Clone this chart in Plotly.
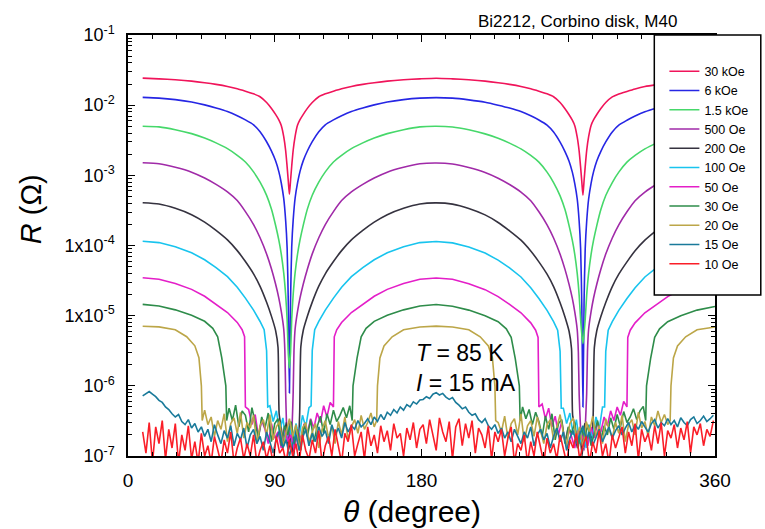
import plotly.graph_objects as go

FONT = "Arial, 'Liberation Sans', Helvetica, sans-serif"

# ---------------------------------------------------------------------------
# Angle grid shared by the three highest-field sweeps (degrees)
THETA_HI = [9, 19, 29, 39, 47, 54, 61, 67, 72, 77, 81, 85, 88, 90.5, 92.5, 94, 95.5, 96.7, 97.6, 98.3, 99,
            99.7, 100.4, 101.3, 102.5, 104, 105.5, 107.5, 110, 113, 117, 121, 126, 131, 137, 144, 151, 159, 169, 179, 189,
            199, 209, 219, 227, 234, 241, 247, 252, 257, 261, 265, 268, 270.5, 272.5, 274, 275.5, 276.7, 277.6, 278.3, 279,
            279.7, 280.4, 281.3, 282.5, 284, 285.5, 287.5, 290, 293, 297, 301, 306, 311, 317, 324, 331, 339, 349, 360]

# R (ohm) at 30 kOe
R_30K = [2.43e-2, 2.37e-2, 2.30e-2, 2.20e-2, 2.09e-2, 1.98e-2, 1.85e-2, 1.71e-2, 1.58e-2, 1.45e-2, 1.32e-2, 1.09e-2,
         8.97e-3, 7.38e-3, 6.17e-3, 5.13e-3, 3.55e-3, 2.24e-3, 1.32e-3, 8.32e-4, 5.37e-4,
         8.5e-4, 1.35e-3, 2.28e-3, 3.6e-3, 5.2e-3, 6.2e-3, 7.4e-3, 9.0e-3, 1.09e-2, 1.32e-2, 1.45e-2, 1.58e-2, 1.71e-2,
         1.85e-2, 1.98e-2, 2.09e-2, 2.20e-2, 2.30e-2, 2.37e-2, 2.42e-2,
         2.37e-2, 2.30e-2, 2.20e-2, 2.09e-2, 1.98e-2, 1.85e-2, 1.71e-2, 1.58e-2, 1.45e-2, 1.32e-2, 1.09e-2, 8.9e-3,
         7.3e-3, 6.1e-3, 5.1e-3, 3.5e-3, 2.2e-3, 1.3e-3, 8.2e-4, 5.2e-4,
         8.4e-4, 1.33e-3, 2.25e-3, 3.55e-3, 5.15e-3, 6.15e-3, 7.35e-3, 8.95e-3, 1.09e-2, 1.31e-2, 1.44e-2, 1.57e-2,
         1.70e-2, 1.84e-2, 1.96e-2, 2.07e-2, 2.18e-2, 2.28e-2, 2.35e-2]

# R (ohm) at 6 kOe
R_6K = [1.29e-2, 1.26e-2, 1.20e-2, 1.11e-2, 1.01e-2, 9.14e-3, 8.13e-3, 7.08e-3, 6.17e-3, 5.25e-3, 4.18e-3, 3.01e-3,
        2.21e-3, 1.61e-3, 1.13e-3, 7.78e-4, 4.68e-4, 2.25e-4, 9.12e-5, 1.58e-5, 7.9e-7,
        1.7e-5, 9.5e-5, 2.3e-4, 4.75e-4, 7.85e-4, 1.14e-3, 1.62e-3, 2.22e-3, 3.02e-3, 4.18e-3, 5.25e-3, 6.17e-3,
        7.08e-3, 8.13e-3, 9.14e-3, 1.01e-2, 1.11e-2, 1.20e-2, 1.26e-2, 1.28e-2,
        1.26e-2, 1.19e-2, 1.10e-2, 1.00e-2, 9.1e-3, 8.1e-3, 7.05e-3, 6.15e-3, 5.2e-3, 4.15e-3, 2.98e-3, 2.18e-3,
        1.59e-3, 1.11e-3, 7.6e-4, 4.6e-4, 2.2e-4, 8.9e-5, 1.5e-5, 5.0e-7,
        1.6e-5, 9.0e-5, 2.2e-4, 4.6e-4, 7.7e-4, 1.12e-3, 1.6e-3, 2.2e-3, 2.99e-3, 4.15e-3, 5.2e-3, 6.1e-3, 7.0e-3,
        8.05e-3, 9.05e-3, 1.0e-2, 1.10e-2, 1.19e-2, 1.25e-2]

# R (ohm) at 1.5 kOe
R_1K5 = [5.0e-3, 4.9e-3, 4.47e-3, 3.93e-3, 3.4e-3, 2.9e-3, 2.4e-3, 1.93e-3, 1.55e-3, 1.12e-3, 7.98e-4, 5.18e-4,
         3.28e-4, 1.94e-4, 1.19e-4, 7.55e-5, 4.07e-5, 1.97e-5, 8.71e-6, 2.88e-6, 1.8e-6,
         3.0e-6, 9.0e-6, 2.0e-5, 4.1e-5, 7.6e-5, 1.2e-4, 1.95e-4, 3.3e-4, 5.2e-4, 8.0e-4, 1.12e-3, 1.55e-3, 1.93e-3,
         2.4e-3, 2.9e-3, 3.4e-3, 3.93e-3, 4.47e-3, 4.9e-3, 5.0e-3,
         4.88e-3, 4.45e-3, 3.9e-3, 3.38e-3, 2.88e-3, 2.38e-3, 1.92e-3, 1.54e-3, 1.11e-3, 7.9e-4, 5.1e-4, 3.25e-4,
         1.92e-4, 1.18e-4, 7.5e-5, 4.0e-5, 1.95e-5, 8.6e-6, 5.5e-6, 4.0e-6,
         5.6e-6, 8.8e-6, 1.96e-5, 4.05e-5, 7.5e-5, 1.18e-4, 1.92e-4, 3.25e-4, 5.15e-4, 7.9e-4, 1.11e-3, 1.54e-3,
         1.92e-3, 2.38e-3, 2.88e-3, 3.38e-3, 3.9e-3, 4.45e-3, 4.87e-3]

# 500 Oe
THETA_500 = [9, 19, 29, 39, 47, 54, 61, 67, 72, 77, 81, 85, 88, 90.5, 92.5, 94, 95.5, 96.2, 96.7,
             97.5, 98.3, 99, 99.7, 100.5,
             101.3, 101.8, 102.5, 104, 105.5, 107.5, 110, 113, 117, 121, 126, 131, 137, 144, 151, 159, 169, 179, 189,
             199, 209, 219, 227, 234, 241, 247, 252, 257, 261, 265, 268, 270.5, 272.5, 274, 275.5, 276.2, 276.7,
             277.5, 278.3, 279, 279.7, 280.5,
             281.3, 281.8, 282.5, 284, 285.5, 287.5, 290, 293, 297, 301, 306, 311, 317, 324, 331, 339, 349, 360]
R_500 = [1.51e-3, 1.46e-3, 1.30e-3, 1.11e-3, 9.16e-4, 7.43e-4, 5.81e-4, 4.37e-4, 3.04e-4, 1.99e-4, 1.29e-4, 7.59e-5,
         4.62e-5, 2.82e-5, 1.78e-5, 1.15e-5, 6.46e-6, 3.16e-6, 7.9e-7,
         2.0e-7, 1.3e-7, 3.0e-7, 1.6e-7, 2.4e-7,
         8.0e-7, 3.2e-6, 6.5e-6, 1.16e-5, 1.79e-5, 2.83e-5, 4.6e-5, 7.6e-5, 1.29e-4, 1.99e-4, 3.04e-4, 4.37e-4,
         5.81e-4, 7.43e-4, 9.16e-4, 1.11e-3, 1.30e-3, 1.46e-3, 1.50e-3,
         1.45e-3, 1.29e-3, 1.10e-3, 9.1e-4, 7.4e-4, 5.78e-4, 4.34e-4, 3.02e-4, 1.97e-4, 1.28e-4, 7.5e-5, 4.57e-5,
         2.79e-5, 1.76e-5, 1.13e-5, 6.3e-6, 3.0e-6, 7.5e-7,
         2.6e-7, 1.5e-7, 2.2e-7, 1.2e-7, 2.8e-7,
         7.8e-7, 3.1e-6, 6.4e-6, 1.14e-5, 1.77e-5, 2.8e-5, 4.58e-5, 7.55e-5, 1.28e-4, 1.97e-4, 3.02e-4, 4.34e-4,
         5.78e-4, 7.4e-4, 9.1e-4, 1.10e-3, 1.29e-3, 1.44e-3]

# 200 Oe
THETA_200 = [9, 19, 29, 39, 47, 54, 61, 67, 72, 77, 81, 85, 88, 90.5, 92, 92.7,
             94, 95.5, 97, 98.5, 100, 101.5, 103, 104.5,
             105.3, 106, 107.5, 110, 113, 117, 121, 126, 131, 137, 144, 151, 159, 169, 179, 189,
             199, 209, 219, 227, 234, 241, 247, 252, 257, 261, 265, 268, 270.5, 272, 272.7,
             274, 275.5, 277, 278.5, 280, 281.5, 283, 284.5,
             285.3, 286, 287.5, 290, 293, 297, 301, 306, 311, 317, 324, 331, 339, 349, 360]
R_200 = [4.07e-4, 3.91e-4, 3.39e-4, 2.75e-4, 2.15e-4, 1.64e-4, 1.20e-4, 8.45e-5, 5.90e-5, 3.94e-5, 2.62e-5, 1.55e-5,
         9.77e-6, 6.17e-6, 3.55e-6, 4.0e-7,
         2.5e-7, 1.4e-7, 3.0e-7, 1.2e-7, 2.2e-7, 0.9e-7, 2.8e-7, 1.6e-7,
         4.2e-7, 3.6e-6, 6.2e-6, 9.8e-6, 1.56e-5, 2.63e-5, 3.95e-5, 5.9e-5, 8.45e-5, 1.20e-4, 1.64e-4, 2.15e-4,
         2.75e-4, 3.39e-4, 3.91e-4, 4.05e-4,
         3.89e-4, 3.37e-4, 2.73e-4, 2.13e-4, 1.62e-4, 1.19e-4, 8.35e-5, 5.85e-5, 3.9e-5, 2.6e-5, 1.53e-5, 9.6e-6,
         6.0e-6, 3.4e-6, 3.8e-7,
         2.7e-7, 1.3e-7, 2.4e-7, 1.0e-7, 2.9e-7, 1.5e-7, 2.1e-7, 1.8e-7,
         4.0e-7, 3.5e-6, 6.1e-6, 9.7e-6, 1.54e-5, 2.6e-5, 3.9e-5, 5.85e-5, 8.4e-5, 1.19e-4, 1.63e-4, 2.13e-4,
         2.73e-4, 3.37e-4, 3.88e-4]

# 100 Oe
THETA_100 = ([9, 19, 29, 39, 47, 54, 61, 67, 72, 77, 81, 83.5, 85, 85.7]
             + list(range(87, 112, 2))
             + [112.3, 113, 114.5, 117, 121, 126, 131, 137, 144, 151, 159, 169, 179, 189,
                199, 209, 219, 227, 234, 241, 247, 252, 257, 261, 263.5, 265, 265.7]
             + list(range(267, 292, 2))
             + [292.3, 293, 294.5, 297, 301, 306, 311, 317, 324, 331, 339, 349, 360])
R_100 = [1.15e-4, 1.10e-4, 9.59e-5, 7.89e-5, 6.27e-5, 4.85e-5, 3.60e-5, 2.54e-5, 1.78e-5, 1.20e-5, 8.26e-6, 6.31e-6,
         3.16e-6, 5.0e-7,
         5.2e-7, 3.1e-7, 4.4e-7, 2.2e-7, 3.5e-7, 1.6e-7, 2.7e-7, 1.4e-7, 2.9e-7, 1.9e-7, 3.8e-7, 2.6e-7, 4.9e-7,
         5.2e-7, 3.2e-6, 6.3e-6, 8.3e-6, 1.2e-5, 1.78e-5, 2.54e-5, 3.6e-5, 4.85e-5, 6.27e-5, 7.89e-5, 9.59e-5,
         1.10e-4, 1.14e-4,
         1.09e-4, 9.5e-5, 7.8e-5, 6.2e-5, 4.8e-5, 3.56e-5, 2.5e-5, 1.76e-5, 1.19e-5, 8.2e-6, 6.2e-6, 3.1e-6, 4.8e-7,
         4.8e-7, 2.9e-7, 4.1e-7, 2.0e-7, 3.3e-7, 1.5e-7, 2.5e-7, 1.3e-7, 2.8e-7, 1.8e-7, 3.6e-7, 2.4e-7, 5.0e-7,
         5.0e-7, 3.1e-6, 6.2e-6, 8.2e-6, 1.19e-5, 1.76e-5, 2.5e-5, 3.56e-5, 4.8e-5, 6.2e-5, 7.8e-5, 9.5e-5, 1.08e-4]

# 50 Oe
THETA_50 = ([9, 19, 29, 39, 47, 54, 61, 67, 70, 71.5, 72]
            + list(range(74, 125, 2))
            + [126, 126.5, 128, 131, 137, 144, 151, 159, 169, 179, 189,
               199, 209, 219, 227, 234, 241, 247, 250, 251.5, 252]
            + list(range(254, 305, 2))
            + [306, 306.5, 308, 311, 317, 324, 331, 339, 349, 360])
R_50 = [3.47e-5, 3.31e-5, 2.88e-5, 2.37e-5, 1.89e-5, 1.46e-5, 1.11e-5, 8.02e-6, 6.31e-6, 5.01e-6, 5.0e-7,
        4.6e-7, 2.8e-7, 3.9e-7, 1.9e-7, 3.2e-7, 2.4e-7, 1.5e-7, 2.9e-7, 1.8e-7, 2.2e-7, 1.3e-7, 2.6e-7, 1.6e-7,
        2.0e-7, 1.2e-7, 2.4e-7, 1.7e-7, 2.9e-7, 2.1e-7, 3.4e-7, 2.5e-7, 4.1e-7, 3.0e-7, 5.2e-7, 3.6e-7, 5.8e-7,
        5.0e-7, 5.0e-6, 6.3e-6, 8.0e-6, 1.11e-5, 1.46e-5, 1.89e-5, 2.37e-5, 2.88e-5, 3.31e-5, 3.45e-5,
        3.3e-5, 2.86e-5, 2.35e-5, 1.87e-5, 1.45e-5, 1.10e-5, 7.9e-6, 6.2e-6, 4.9e-6, 5.0e-7,
        5.5e-7, 3.4e-7, 4.8e-7, 2.6e-7, 3.7e-7, 2.0e-7, 3.1e-7, 1.6e-7, 2.5e-7, 1.9e-7, 1.3e-7, 2.3e-7, 1.7e-7,
        2.1e-7, 1.4e-7, 2.6e-7, 1.8e-7, 3.0e-7, 2.2e-7, 3.6e-7, 2.7e-7, 4.4e-7, 3.2e-7, 5.0e-7, 3.8e-7, 6.0e-7,
        5.0e-7, 4.9e-6, 6.2e-6, 7.9e-6, 1.10e-5, 1.45e-5, 1.87e-5, 2.35e-5, 2.86e-5, 3.28e-5]

# 30 Oe
THETA_30 = ([9, 19, 29, 39, 47, 52, 55, 57.5, 60, 60.5]
            + list(range(62, 137, 2))
            + [137.5, 138, 140.5, 143, 146, 151, 159, 169, 179, 189,
               199, 209, 219, 227, 232, 235, 237.5, 240, 240.5]
            + list(range(242, 317, 2))
            + [317.5, 318, 320.5, 323, 326, 331, 339, 349, 360])
R_30 = [1.45e-5, 1.37e-5, 1.21e-5, 1.01e-5, 8.32e-6, 6.61e-6, 5.01e-6, 2.51e-6, 1.0e-6, 3.2e-7,
        4.8e-7, 3.2e-7, 5.3e-7, 2.6e-7, 4.4e-7, 3.8e-7, 2.2e-7, 4.9e-7, 3.0e-7, 1.8e-7,
        3.6e-7, 2.5e-7, 4.1e-7, 1.6e-7, 2.9e-7, 3.4e-7, 1.4e-7, 2.7e-7, 2.0e-7, 3.1e-7,
        1.5e-7, 2.4e-7, 1.2e-7, 2.8e-7, 1.9e-7, 3.3e-7, 1.6e-7, 2.6e-7, 3.7e-7, 2.1e-7,
        4.0e-7, 2.8e-7, 4.5e-7, 3.1e-7, 3.8e-7, 4.9e-7, 3.5e-7, 5.2e-7,
        3.2e-7, 1.0e-6, 2.5e-6, 5.0e-6, 6.6e-6, 8.3e-6, 1.01e-5, 1.21e-5, 1.37e-5, 1.44e-5,
        1.36e-5, 1.2e-5, 1.0e-5, 8.2e-6, 6.5e-6, 4.9e-6, 2.45e-6, 1.0e-6, 3.2e-7,
        5.0e-7, 3.4e-7, 4.6e-7, 2.8e-7, 4.2e-7, 3.1e-7, 1.9e-7, 3.7e-7, 2.4e-7, 4.0e-7,
        1.7e-7, 2.9e-7, 3.3e-7, 1.5e-7, 2.6e-7, 2.1e-7, 3.0e-7, 1.3e-7, 2.5e-7, 1.8e-7,
        2.8e-7, 1.4e-7, 2.2e-7, 3.2e-7, 1.7e-7, 2.7e-7, 2.0e-7, 3.5e-7, 2.4e-7, 3.9e-7,
        2.6e-7, 4.3e-7, 3.0e-7, 3.6e-7, 4.7e-7, 3.3e-7, 4.4e-7, 5.1e-7,
        3.2e-7, 1.0e-6, 2.45e-6, 4.9e-6, 6.5e-6, 8.2e-6, 1.0e-5, 1.2e-5, 1.35e-5]

# 20 Oe
THETA_20 = ([9, 19, 29, 36, 41, 43.5, 45, 45.5]
            + list(range(47, 152, 2))
            + [152.5, 153, 154.5, 157, 162, 169, 179, 189,
               199, 209, 216, 221, 223.5, 225, 225.5]
            + list(range(227, 332, 2))
            + [332.5, 333, 334.5, 337, 342, 349, 360])
R_20 = [7.08e-6, 6.92e-6, 6.31e-6, 5.01e-6, 3.72e-6, 2.51e-6, 1.0e-6, 3.2e-7,
        4.5e-7, 2.8e-7, 3.6e-7, 1.9e-7, 3.2e-7, 2.4e-7, 4.0e-7, 1.6e-7, 2.9e-7, 3.5e-7,
        2.1e-7, 4.2e-7, 1.8e-7, 3.0e-7, 2.5e-7, 3.8e-7, 1.5e-7, 2.7e-7, 3.3e-7, 2.0e-7,
        3.9e-7, 1.7e-7, 2.6e-7, 3.1e-7, 1.4e-7, 2.3e-7, 3.4e-7, 1.9e-7, 2.8e-7, 1.2e-7,
        2.5e-7, 3.0e-7, 1.6e-7, 2.2e-7, 2.9e-7, 1.3e-7, 2.4e-7, 3.2e-7, 1.8e-7, 2.7e-7,
        1.5e-7, 3.1e-7, 2.0e-7, 3.6e-7, 1.7e-7, 2.6e-7, 3.3e-7, 2.1e-7, 3.8e-7, 2.4e-7,
        3.0e-7, 4.1e-7, 2.6e-7,
        3.2e-7, 1.0e-6, 2.5e-6, 3.7e-6, 5.0e-6, 6.3e-6, 6.9e-6, 7.1e-6,
        6.9e-6, 6.3e-6, 5.0e-6, 3.7e-6, 2.5e-6, 1.0e-6, 3.2e-7,
        3.0e-7, 2.2e-7, 3.7e-7, 1.8e-7, 2.9e-7, 3.4e-7, 2.0e-7, 4.0e-7, 1.6e-7, 2.7e-7,
        3.2e-7, 1.9e-7, 3.6e-7, 2.3e-7, 1.5e-7, 2.8e-7, 3.3e-7, 1.7e-7, 2.5e-7, 3.9e-7,
        2.1e-7, 1.4e-7, 2.9e-7, 3.5e-7, 1.8e-7, 2.6e-7, 1.3e-7, 3.1e-7, 2.2e-7, 3.7e-7,
        1.9e-7, 2.7e-7, 1.5e-7, 3.4e-7, 2.4e-7, 1.8e-7, 3.0e-7, 2.1e-7, 3.8e-7, 1.6e-7,
        2.8e-7, 3.3e-7, 2.0e-7, 4.2e-7, 2.5e-7, 3.1e-7, 1.9e-7, 3.6e-7, 2.7e-7, 4.4e-7,
        3.0e-7, 3.9e-7, 2.8e-7,
        3.2e-7, 1.0e-6, 2.5e-6, 3.7e-6, 5.0e-6, 6.3e-6, 6.9e-6]

# 15 Oe and 10 Oe sit at the noise floor over the whole sweep (2 degree steps)
THETA_LOW = list(range(9, 360, 2))
R_15 = [7.2e-7, 7.8e-7, 8.3e-7, 7.6e-7, 7.0e-7, 6.2e-7, 5.8e-7, 5.0e-7, 4.6e-7, 4.0e-7, 3.6e-7, 3.9e-7, 3.1e-7,
        2.8e-7, 3.3e-7, 2.5e-7,
        2.9e-7, 2.2e-7, 2.6e-7, 1.9e-7, 2.4e-7, 1.6e-7, 2.8e-7, 2.0e-7, 1.5e-7, 2.3e-7, 1.8e-7, 2.7e-7, 1.4e-7,
        2.1e-7, 1.7e-7, 2.5e-7, 1.3e-7, 2.0e-7, 2.4e-7, 1.5e-7, 1.9e-7, 1.2e-7, 2.2e-7, 1.6e-7, 1.1e-7, 1.8e-7,
        2.3e-7, 1.3e-7, 1.7e-7, 1.0e-7,
        1.5e-7, 2.0e-7, 1.2e-7, 1.8e-7, 2.4e-7, 1.4e-7, 2.1e-7, 1.6e-7, 2.6e-7, 1.9e-7, 2.3e-7, 1.5e-7, 2.8e-7,
        2.0e-7, 2.5e-7, 1.8e-7, 3.0e-7, 2.2e-7, 2.7e-7, 2.4e-7, 3.2e-7, 2.6e-7, 2.9e-7, 3.4e-7, 2.8e-7, 3.6e-7,
        3.1e-7, 3.9e-7, 3.3e-7, 4.2e-7, 3.8e-7, 4.6e-7, 4.1e-7, 5.0e-7, 4.5e-7, 5.4e-7, 5.0e-7, 5.9e-7, 5.5e-7,
        6.3e-7,
        6.4e-7, 7.0e-7, 6.6e-7, 7.6e-7, 8.0e-7, 7.4e-7, 7.8e-7, 6.9e-7, 6.4e-7, 6.8e-7, 5.8e-7, 5.3e-7, 4.7e-7,
        5.0e-7, 4.2e-7, 3.8e-7, 4.0e-7, 3.3e-7, 3.0e-7, 3.4e-7, 2.7e-7, 2.4e-7, 2.8e-7, 2.1e-7, 2.5e-7, 1.8e-7,
        2.2e-7, 1.6e-7, 2.4e-7, 1.9e-7,
        1.5e-7, 2.2e-7, 1.8e-7, 2.6e-7, 1.4e-7, 2.0e-7, 2.4e-7, 1.7e-7, 2.1e-7, 1.3e-7, 1.9e-7, 2.5e-7, 1.6e-7,
        2.2e-7, 1.2e-7, 1.8e-7, 2.3e-7, 1.5e-7, 2.0e-7, 2.7e-7, 1.7e-7, 2.2e-7, 1.4e-7, 1.9e-7, 2.4e-7, 1.6e-7,
        2.1e-7, 2.6e-7, 1.8e-7, 2.3e-7,
        2.7e-7, 2.0e-7, 2.5e-7, 3.0e-7, 2.2e-7, 2.8e-7, 2.4e-7, 3.1e-7, 2.6e-7, 2.2e-7, 2.9e-7, 3.3e-7, 2.5e-7,
        3.0e-7, 2.7e-7, 3.4e-7, 2.8e-7, 3.2e-7, 2.6e-7, 3.5e-7, 3.0e-7, 2.7e-7, 3.3e-7, 3.6e-7, 2.9e-7, 3.2e-7,
        3.7e-7, 3.1e-7, 3.4e-7, 3.8e-7]
R_10 = [2.2e-7, 1.1e-7, 3.0e-7, 0.8e-7, 2.6e-7, 1.5e-7, 3.2e-7, 0.9e-7, 2.4e-7, 1.3e-7, 2.9e-7, 0.8e-7, 2.0e-7,
        1.2e-7, 2.7e-7, 0.9e-7,
        1.6e-7, 0.8e-7, 2.1e-7, 1.0e-7, 1.4e-7, 0.8e-7, 1.9e-7, 1.2e-7, 0.8e-7, 1.7e-7, 1.1e-7, 2.2e-7, 0.8e-7,
        1.3e-7, 1.8e-7, 0.9e-7, 1.5e-7, 1.0e-7, 2.0e-7, 0.8e-7, 1.2e-7, 1.6e-7, 0.9e-7, 1.4e-7, 0.8e-7, 1.9e-7,
        1.1e-7, 1.3e-7, 0.8e-7, 1.7e-7,
        1.0e-7, 1.5e-7, 0.8e-7, 2.0e-7, 1.2e-7, 0.9e-7, 1.7e-7, 1.1e-7, 2.3e-7, 0.8e-7, 1.4e-7, 1.9e-7, 1.0e-7,
        2.4e-7, 1.3e-7, 0.8e-7, 2.1e-7, 1.6e-7, 2.8e-7, 1.0e-7, 1.5e-7, 2.2e-7, 0.9e-7, 2.6e-7, 1.4e-7, 2.0e-7,
        1.1e-7, 2.7e-7, 1.6e-7, 2.3e-7, 1.2e-7, 2.9e-7, 1.8e-7, 2.1e-7, 1.0e-7, 2.5e-7, 1.7e-7, 3.0e-7, 1.3e-7,
        2.4e-7,
        2.8e-7, 1.5e-7, 3.3e-7, 2.0e-7, 1.2e-7, 3.5e-7, 2.2e-7, 1.6e-7, 3.1e-7, 0.9e-7, 2.6e-7, 3.4e-7, 1.4e-7,
        2.9e-7, 1.8e-7, 3.2e-7, 1.1e-7, 2.5e-7, 2.0e-7, 1.3e-7, 2.7e-7, 0.9e-7, 2.2e-7, 1.6e-7, 2.4e-7, 1.0e-7,
        1.8e-7, 2.6e-7, 0.8e-7, 1.5e-7,
        1.2e-7, 2.0e-7, 0.8e-7, 1.6e-7, 1.0e-7, 2.2e-7, 1.3e-7, 0.8e-7, 1.8e-7, 1.1e-7, 1.5e-7, 0.9e-7, 2.0e-7,
        1.2e-7, 0.8e-7, 1.7e-7, 1.3e-7, 2.1e-7, 0.9e-7, 1.4e-7, 1.9e-7, 0.8e-7, 1.6e-7, 1.1e-7, 2.3e-7, 1.0e-7,
        1.5e-7, 0.8e-7, 2.0e-7, 1.3e-7,
        1.8e-7, 2.6e-7, 1.1e-7, 2.2e-7, 1.4e-7, 2.9e-7, 0.9e-7, 2.4e-7, 1.6e-7, 2.1e-7, 1.2e-7, 2.7e-7, 1.5e-7,
        3.0e-7, 1.0e-7, 2.3e-7, 1.8e-7, 2.8e-7, 1.3e-7, 2.5e-7, 1.7e-7, 3.1e-7, 1.1e-7, 2.6e-7, 2.0e-7, 2.9e-7,
        1.4e-7, 2.4e-7, 1.9e-7, 3.2e-7]

FIELD_LABELS = ["30 kOe", "6 kOe", "1.5 kOe", "500 Oe", "200 Oe", "100 Oe",
                "50 Oe", "30 Oe", "20 Oe", "15 Oe", "10 Oe"]
COLORS = ["#f0145a", "#2626e4", "#46d86a", "#a02aa8", "#35323f", "#18c4ee",
          "#e41ec8", "#2e8c4a", "#bca648", "#1a7a9a", "#fa1e28"]
SWEEPS = [(THETA_HI, R_30K), (THETA_HI, R_6K), (THETA_HI, R_1K5), (THETA_500, R_500),
          (THETA_200, R_200), (THETA_100, R_100), (THETA_50, R_50), (THETA_30, R_30),
          (THETA_20, R_20), (THETA_LOW, R_15), (THETA_LOW, R_10)]
# the smooth high-field sweeps are drawn with a light spline
SMOOTH = {"30 kOe", "6 kOe", "1.5 kOe", "500 Oe", "200 Oe"}

Y_TICKS = [1e-7, 1e-6, 1e-5, 1e-4, 1e-3, 1e-2, 1e-1]
Y_TICKTEXT = ["10<sup>-7</sup>", "10<sup>-6</sup>", "1x10<sup>-5</sup>", "1x10<sup>-4</sup>",
              "10<sup>-3</sup>", "10<sup>-2</sup>", "10<sup>-1</sup>"]
X_TICKS = [0, 90, 180, 270, 360]

fig = go.Figure()
for label, color, (th, rr) in zip(FIELD_LABELS, COLORS, SWEEPS):
    assert len(th) == len(rr), label
    shape = dict(shape="spline", smoothing=0.6) if label in SMOOTH else dict(shape="linear")
    fig.add_trace(go.Scatter(x=th, y=rr, mode="lines", name=label, legendgroup=label,
                             line=dict(color=color, width=1.6, **shape)))

axis_common = dict(showline=True, linecolor="black", linewidth=1.5, mirror="allticks",
                   ticks="inside", ticklen=7, tickwidth=1.3, tickcolor="black",
                   showgrid=False, zeroline=False)

fig.update_xaxes(range=[0, 360], tickvals=X_TICKS, ticklabelstandoff=6,
                 tickfont=dict(family=FONT, size=19, color="black"),
                 minor=dict(dtick=15, ticks="inside", ticklen=4, tickcolor="black", tickwidth=1),
                 **axis_common)
fig.update_yaxes(type="log", range=[-7, -1], tickvals=Y_TICKS, ticktext=Y_TICKTEXT,
                 ticklabelstandoff=8, tickfont=dict(family=FONT, size=18, color="black"),
                 minor=dict(dtick="D1", ticks="inside", ticklen=4, tickcolor="black", tickwidth=1),
                 **axis_common)

# white legend frame that overlaps the top-right corner of the plot
fig.add_shape(type="rect", xref="paper", yref="paper", x0=0.8966, x1=1.078, y0=0.3824, y1=1.0,
              line=dict(color="black", width=1.5), fillcolor="white", layer="above")

ann = dict(xref="paper", yref="paper", showarrow=False, xanchor="center", yanchor="middle")
fig.add_annotation(text="Bi2212, Corbino disk, M40", x=0.766, y=1.031,
                   font=dict(family=FONT, size=17, color="black"), **ann)
fig.add_annotation(text="<i>R</i> (Ω)", x=-0.166, y=0.585, textangle=-90,
                   font=dict(family=FONT, size=29, color="black"), **ann)
fig.add_annotation(text="<i>θ</i> (degree)", x=0.483, y=-0.133,
                   font=dict(family=FONT, size=30, color="black"), **ann)
ann_left = dict(ann, xanchor="left")
fig.add_annotation(text="<i>T</i> = 85 K", x=0.488, y=0.2447,
                   font=dict(family=FONT, size=23, color="black"), **ann_left)
fig.add_annotation(text="<i>I</i> = 15 mA", x=0.488, y=0.1734,
                   font=dict(family=FONT, size=23, color="black"), **ann_left)

fig.update_layout(
    width=765, height=529,
    margin=dict(l=128, r=47, t=35, b=73),
    paper_bgcolor="white", plot_bgcolor="white",
    showlegend=True,
    legend=dict(x=0.9138, y=0.9487, xanchor="left", yanchor="top", bgcolor="rgba(0,0,0,0)",
                borderwidth=0, font=dict(family=FONT, size=12.5, color="black"),
                itemwidth=30, tracegroupgap=0),
)

fig.write_html("out.html")
